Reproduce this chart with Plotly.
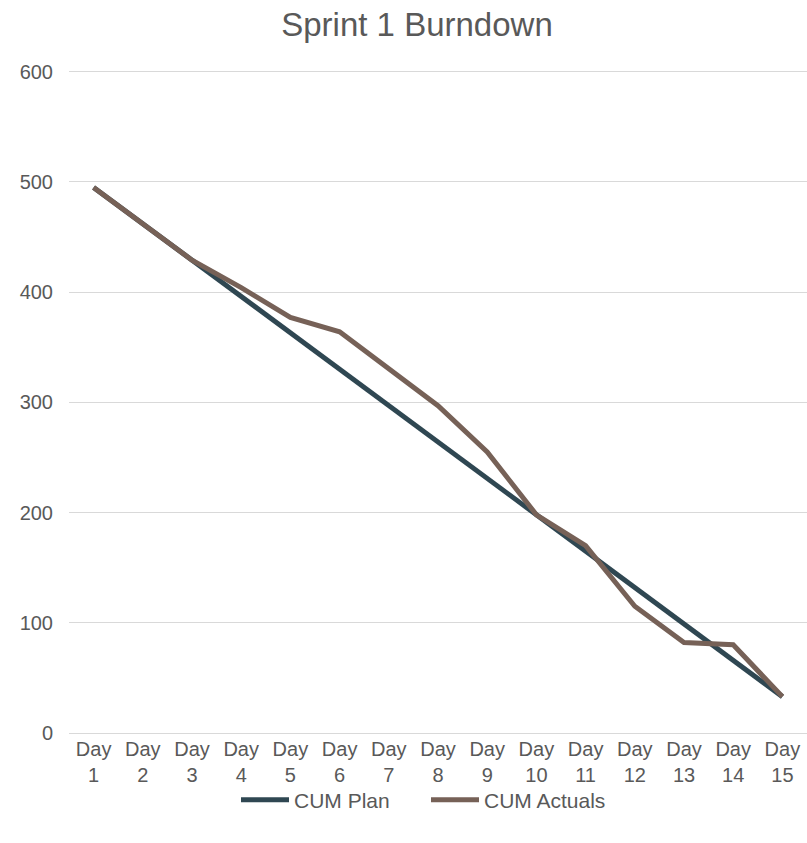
import plotly.graph_objects as go

days = [f"Day<br>{i}" for i in range(1, 16)]
cum_plan = [495, 462, 429, 396, 363, 330, 297, 264, 231, 198, 165, 132, 99, 66, 33]
cum_actuals = [495, 462, 429, 404, 377, 364, 331, 297, 255, 198, 170, 115, 82, 80, 33]
y_ticks = [0, 100, 200, 300, 400, 500, 600]

TEXT = "#595959"
FONT = "Liberation Sans, Arial, sans-serif"

fig = go.Figure()
fig.add_trace(go.Scatter(x=days, y=cum_plan, mode="lines", name="CUM Plan",
                         line=dict(color="#2f4752", width=5)))
fig.add_trace(go.Scatter(x=days, y=cum_actuals, mode="lines", name="CUM Actuals",
                         line=dict(color="#766157", width=5)))

fig.update_layout(
    width=807, height=843,
    paper_bgcolor="white", plot_bgcolor="white",
    font=dict(family=FONT, color=TEXT, size=20),
    title=dict(text="Sprint 1 Burndown", x=417 / 807, xanchor="center",
               y=(843 - 24) / 843, yanchor="middle", yref="container",
               font=dict(size=33, color=TEXT, family=FONT)),
    margin=dict(l=69, r=0, t=70, b=110),
    showlegend=True,
    legend=dict(orientation="h", xref="container", x=236 / 807, xanchor="left",
                yref="container", y=(843 - 800) / 843, yanchor="middle",
                bgcolor="rgba(0,0,0,0)", itemwidth=48,
                entrywidth=127, entrywidthmode="pixels",
                font=dict(size=21, color=TEXT)),
    xaxis=dict(showgrid=False, showline=True, linecolor="#d9d9d9", linewidth=1,
               range=[-0.5, 14.5], ticks="", tickfont=dict(size=20, color=TEXT),
               ticklabelstandoff=-2, automargin=False, fixedrange=True),
    yaxis=dict(range=[0, 601.5], tickvals=y_ticks, showgrid=True, gridcolor="#d9d9d9",
               gridwidth=1, zeroline=False, showline=False, ticks="",
               ticklabelstandoff=15, automargin=False, fixedrange=True,
               tickfont=dict(size=20, color=TEXT)),
)

fig.write_html("out.html", config={"displayModeBar": False},
               post_script="document.body.style.margin='0';")
